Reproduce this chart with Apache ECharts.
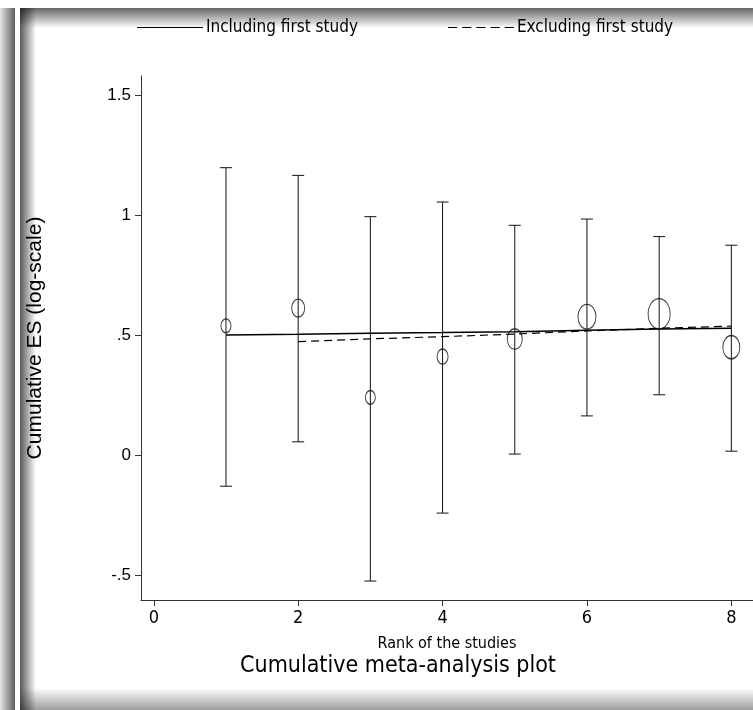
<!DOCTYPE html>
<html>
<head>
<meta charset="utf-8">
<script src="https://cdn.jsdelivr.net/npm/echarts@6/dist/echarts.min.js"></script>
<style>
  html, body { margin: 0; padding: 0; background: #fff; }
  #chart { width: 753px; height: 710px; }
</style>
</head>
<body>
<div id="chart"></div>
<script>
// Study ranks and per-study estimates (log scale)
const ranks = [1, 2, 3, 4, 5, 6, 7, 8];
const studyES = [0.538, 0.612, 0.240, 0.410, 0.483, 0.576, 0.588, 0.449];
const ciLower = [-0.130, 0.055, -0.525, -0.242, 0.004, 0.163, 0.251, 0.016];
const ciUpper = [1.197, 1.165, 0.993, 1.054, 0.957, 0.983, 0.910, 0.874];
// Relative study weights (drive marker size)
const studyWeight = [10, 13, 10, 11, 15, 18, 22, 17];
// Cumulative pooled estimates
const cumIncluding = [0.500, 0.503, 0.507, 0.510, 0.514, 0.520, 0.525, 0.528];
const cumExcluding = [null, 0.472, 0.484, 0.493, 0.504, 0.517, 0.528, 0.537];
// Axis ticks
const xTicks = [0, 2, 4, 6, 8];
const yTicks = [-0.5, 0, 0.5, 1, 1.5];

const NARROW = '"Liberation Sans Narrow", "Arial Narrow", "DejaVu Sans Condensed", sans-serif';
const REGULAR = '"Liberation Sans", Arial, sans-serif';

// Legend glyphs: a solid bar and five dashes
const ICON_SOLID = 'path://M0,0h65v1h-65z';
const ICON_DASHED = 'path://M0,0h9v1h-9z M14,0h9v1h-9z M28,0h9v1h-9z M42,0h9v1h-9z M56,0h9v1h-9z';

function fmtY(v) {
  if (Math.abs(v) < 1e-9) return '0';
  return String(v).replace(/^0\./, '.').replace(/^-0\./, '-.');
}

const chart = echarts.init(document.getElementById('chart'), null, { renderer: 'canvas' });

const errData = ranks.map((r, i) => [r, ciLower[i], ciUpper[i]]);
const pointData = ranks.map((r, i) => ({
  value: [r, studyES[i]],
  symbolSize: [studyWeight[i], studyWeight[i] * 1.38]
}));

const option = {
  backgroundColor: '#ffffff',
  animation: false,
  title: {
    text: 'Cumulative meta-analysis plot',
    left: 398,
    top: 655,
    textAlign: 'center',
    padding: 0,
    textStyle: { fontFamily: NARROW, fontSize: 23, fontWeight: 'normal', color: '#000' }
  },
  legend: {
    left: 137,
    top: 19,
    itemWidth: 66,
    itemHeight: 1.3,
    itemGap: 90,
    padding: 0,
    textStyle: { fontFamily: NARROW, fontSize: 17, color: '#000', padding: [0, 0, 0, -2] },
    data: [
      { name: 'Including first study', icon: ICON_SOLID },
      { name: 'Excluding first study', icon: ICON_DASHED }
    ]
  },
  graphic: [
    { type: 'rect', z: -10, shape: { x: 0, y: 8, width: 15, height: 702 },
      style: { fill: new echarts.graphic.LinearGradient(0, 0, 1, 0, [
        { offset: 0, color: '#e6e6e6' }, { offset: 1, color: '#5e5e5e' }]) } },
    { type: 'rect', z: -10, shape: { x: 20, y: 8, width: 733, height: 20 },
      style: { fill: new echarts.graphic.LinearGradient(0, 0, 0, 1, [
        { offset: 0, color: 'rgba(0,0,0,0.6)' }, { offset: 1, color: 'rgba(0,0,0,0)' }]) } },
    { type: 'rect', z: -10, shape: { x: 20, y: 8, width: 16, height: 702 },
      style: { fill: new echarts.graphic.LinearGradient(0, 0, 1, 0, [
        { offset: 0, color: 'rgba(0,0,0,0.65)' }, { offset: 1, color: 'rgba(0,0,0,0)' }]) } },
    { type: 'rect', z: -10, shape: { x: 20, y: 688, width: 733, height: 22 },
      style: { fill: new echarts.graphic.LinearGradient(0, 0, 0, 1, [
        { offset: 0, color: 'rgba(0,0,0,0)' }, { offset: 1, color: 'rgba(0,0,0,0.38)' }]) } }
  ],
  grid: { left: 141, top: 76, width: 622, height: 524, containLabel: false },
  xAxis: {
    type: 'value',
    min: -0.177,
    max: 8.30,
    name: 'Rank of the studies',
    nameLocation: 'middle',
    nameGap: 36,
    nameTextStyle: { fontFamily: NARROW, fontSize: 16, color: '#000' },
    splitLine: { show: false },
    axisLine: { onZero: false, lineStyle: { color: '#333', width: 1 } },
    axisTick: { length: 6, lineStyle: { color: '#333' }, customValues: xTicks },
    axisLabel: { customValues: xTicks, margin: 9, fontFamily: NARROW, fontSize: 18, color: '#000' }
  },
  yAxis: {
    type: 'value',
    min: -0.604,
    max: 1.579,
    name: 'Cumulative ES (log-scale)',
    nameLocation: 'middle',
    nameGap: 95,
    nameTextStyle: { fontFamily: REGULAR, fontSize: 21, color: '#000' },
    splitLine: { show: false },
    axisLine: { show: true, onZero: false, lineStyle: { color: '#333', width: 1 } },
    axisTick: { show: true, length: 6, lineStyle: { color: '#333' }, customValues: yTicks },
    axisLabel: { customValues: yTicks, margin: 10, fontFamily: REGULAR, fontSize: 17, color: '#000', formatter: fmtY }
  },
  series: [
    {
      name: 'CI',
      type: 'custom',
      data: errData,
      z: 3,
      renderItem: function (params, api) {
        const x = api.value(0);
        const lo = api.coord([x, api.value(1)]);
        const hi = api.coord([x, api.value(2)]);
        const cap = 6;
        const style = { stroke: '#111', lineWidth: 1 };
        return {
          type: 'group',
          children: [
            { type: 'line', shape: { x1: lo[0], y1: lo[1], x2: hi[0], y2: hi[1] }, style },
            { type: 'line', shape: { x1: hi[0] - cap, y1: hi[1], x2: hi[0] + cap, y2: hi[1] }, style },
            { type: 'line', shape: { x1: lo[0] - cap, y1: lo[1], x2: lo[0] + cap, y2: lo[1] }, style }
          ]
        };
      }
    },
    {
      name: 'Study',
      type: 'scatter',
      data: pointData,
      symbol: 'circle',
      z: 4,
      itemStyle: { color: 'rgba(255,255,255,0)', borderColor: '#111', borderWidth: 1.1 }
    },
    {
      name: 'Including first study',
      type: 'line',
      data: ranks.map((r, i) => [r, cumIncluding[i]]),
      symbol: 'none',
      z: 5,
      lineStyle: { color: '#000', width: 1.5, type: 'solid' },
      itemStyle: { color: '#000' }
    },
    {
      name: 'Excluding first study',
      type: 'line',
      data: ranks.map((r, i) => [r, cumExcluding[i]]).filter(d => d[1] !== null),
      symbol: 'none',
      z: 5,
      lineStyle: { color: '#000', width: 1.2, type: [8, 5] },
      itemStyle: { color: '#000' }
    }
  ]
};

chart.setOption(option);
</script>
</body>
</html>
